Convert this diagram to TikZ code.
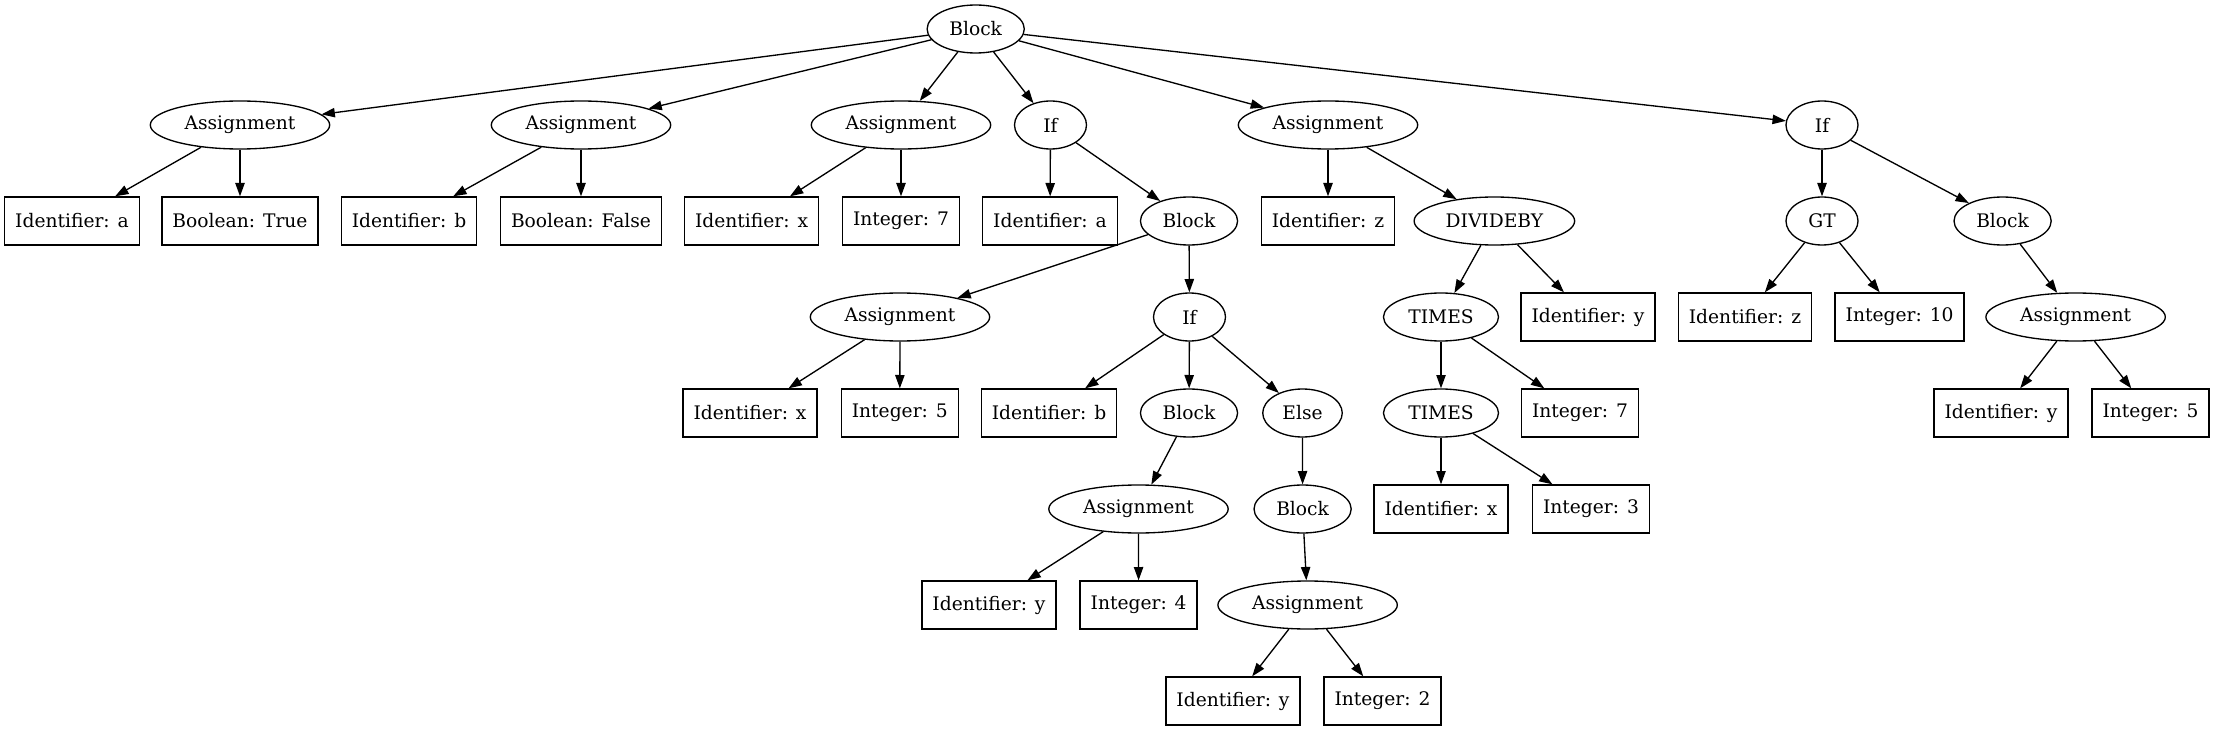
\documentclass[tikz,border=0pt]{standalone}
\usepackage{fontspec}
\setmainfont{DejaVu Serif}
\usepackage{tikz}
\usetikzlibrary{shapes.geometric,arrows.meta}

\begin{document}
\begin{tikzpicture}[x=0.75pt,y=-0.75pt,line width=1pt,
    font=\fontsize{14}{17}\selectfont,
    >={Triangle[length=10pt,width=7pt]},
    ast/.style={ellipse, draw, minimum width=54pt, minimum height=36pt, inner xsep=6pt, inner ysep=2pt},
    leaf/.style={rectangle, draw, minimum width=54pt, minimum height=36pt, inner xsep=7.92pt}]
                        \useasboundingbox (0,0) rectangle (2214,731);

                        % Nodes
                        \node[ast] (blk) at (975.7,29) {Block};

                        \node[ast] (asg1) at (240,125) {Assignment};
                        \node[ast] (asg2) at (581,125) {Assignment};
                        \node[ast] (asg3) at (901,125) {Assignment};
                        \node[ast] (if1) at (1050.5,125) {If};
                        \node[ast] (asg4) at (1328,125) {Assignment};
                        \node[ast] (if2) at (1822,125) {If};

                        \node[leaf] (ida) at (72,221) {Identifier: a};
                        \node[leaf] (booltrue) at (240,221) {Boolean: True};
                        \node[leaf] (idb) at (409,221) {Identifier: b};
                        \node[leaf] (boolfalse) at (581,221) {Boolean: False};
                        \node[leaf] (idx) at (751.6,221) {Identifier: x};
                        \node[leaf] (int7) at (901,221) {Integer: 7};
                        \node[leaf] (ida2) at (1050,221) {Identifier: a};
                        \node[ast] (blk1) at (1189,221) {Block};
                        \node[leaf] (idz) at (1328,221) {Identifier: z};
                        \node[ast] (div) at (1494.4,221) {DIVIDEBY};
                        \node[ast] (gt) at (1822,221) {GT};
                        \node[ast] (blk2) at (2002.6,221) {Block};

                        \node[ast] (asg5) at (900,317) {Assignment};
                        \node[ast] (if3) at (1189.5,317) {If};
                        \node[ast] (times1) at (1441,317) {TIMES};
                        \node[leaf] (idy) at (1588,317) {Identifier: y};
                        \node[leaf] (idz2) at (1745,317) {Identifier: z};
                        \node[leaf] (int10) at (1899.6,317) {Integer: 10};
                        \node[ast] (asg6) at (2075.6,317) {Assignment};

                        \node[leaf] (idx2) at (750,413) {Identifier: x};
                        \node[leaf] (int5) at (899.8,413) {Integer: 5};
                        \node[leaf] (idb2) at (1049,413) {Identifier: b};
                        \node[ast] (blk3) at (1189,413) {Block};
                        \node[ast] (else) at (1302.5,413) {Else};
                        \node[ast] (times2) at (1441,413) {TIMES};
                        \node[leaf] (int7b) at (1580,413) {Integer: 7};
                        \node[leaf] (idy2) at (2001,413) {Identifier: y};
                        \node[leaf] (int5b) at (2150.5,413) {Integer: 5};

                        \node[ast] (asg7) at (1138.5,509) {Assignment};
                        \node[ast] (blk4) at (1302.6,509) {Block};
                        \node[leaf] (idx3) at (1441,509) {Identifier: x};
                        \node[leaf] (int3) at (1591,509) {Integer: 3};

                        \node[leaf] (idy3) at (989,605) {Identifier: y};
                        \node[leaf] (int4) at (1138.6,605) {Integer: 4};
                        \node[ast] (asg8) at (1307.6,605) {Assignment};

                        \node[leaf] (idy4) at (1233,701) {Identifier: y};
                        \node[leaf] (int2) at (1382.5,701) {Integer: 2};

                        % Edges
                        \draw[->] (blk) -- (asg1);
                        \draw[->] (blk) -- (asg2);
                        \draw[->] (blk) -- (asg3);
                        \draw[->] (blk) -- (if1);
                        \draw[->] (blk) -- (asg4);
                        \draw[->] (blk) -- (if2);

                        \draw[->] (asg1) -- (ida);
                        \draw[->] (asg1) -- (booltrue);
                        \draw[->] (asg2) -- (idb);
                        \draw[->] (asg2) -- (boolfalse);
                        \draw[->] (asg3) -- (idx);
                        \draw[->] (asg3) -- (int7);
                        \draw[->] (if1) -- (ida2);
                        \draw[->] (if1) -- (blk1);
                        \draw[->] (asg4) -- (idz);
                        \draw[->] (asg4) -- (div);
                        \draw[->] (if2) -- (gt);
                        \draw[->] (if2) -- (blk2);

                        \draw[->] (blk1) -- (asg5);
                        \draw[->] (blk1) -- (if3);
                        \draw[->] (div) -- (times1);
                        \draw[->] (div) -- (idy);
                        \draw[->] (gt) -- (idz2);
                        \draw[->] (gt) -- (int10);
                        \draw[->] (blk2) -- (asg6);

                        \draw[->] (asg5) -- (idx2);
                        \draw[->] (asg5) -- (int5);
                        \draw[->] (if3) -- (idb2);
                        \draw[->] (if3) -- (blk3);
                        \draw[->] (if3) -- (else);
                        \draw[->] (times1) -- (times2);
                        \draw[->] (times1) -- (int7b);
                        \draw[->] (asg6) -- (idy2);
                        \draw[->] (asg6) -- (int5b);

                        \draw[->] (blk3) -- (asg7);
                        \draw[->] (else) -- (blk4);
                        \draw[->] (times2) -- (idx3);
                        \draw[->] (times2) -- (int3);

                        \draw[->] (asg7) -- (idy3);
                        \draw[->] (asg7) -- (int4);
                        \draw[->] (blk4) -- (asg8);

                        \draw[->] (asg8) -- (idy4);
                        \draw[->] (asg8) -- (int2);
                    \end{tikzpicture}
\end{document}
